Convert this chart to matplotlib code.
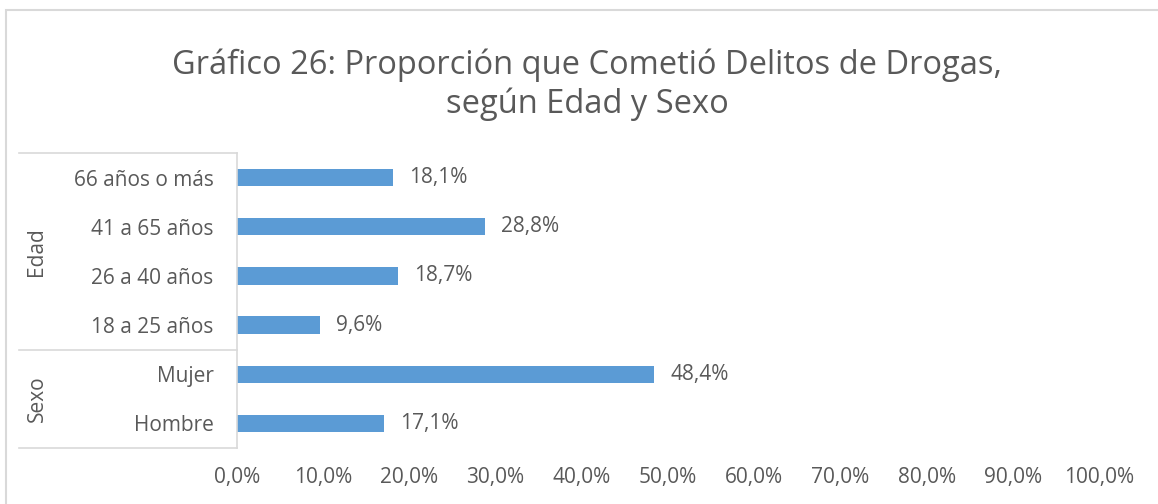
import matplotlib.pyplot as plt
from matplotlib.patches import Rectangle
from matplotlib.lines import Line2D

plt.rcParams['font.family'] = ['Open Sans', 'DejaVu Sans']

# Data
categories = ['Hombre', 'Mujer', '18 a 25 años', '26 a 40 años', '41 a 65 años', '66 años o más']
values = [17.1, 48.4, 9.6, 18.7, 28.8, 18.1]
groups = ['Sexo', 'Edad']
group_sizes = [2, 4]
xticks = [0, 10, 20, 30, 40, 50, 60, 70, 80, 90, 100]
title = 'Gráfico 26: Proporción que Cometió Delitos de Drogas,\nsegún Edad y Sexo'

text_color = '#595959'
line_color = '#d9d9d9'
bar_color = '#5b9bd5'

W, H = 1158, 504
fig = plt.figure(figsize=(W / 100, H / 100), dpi=100)

# axes placement in pixels (from reference)
x0, x1 = 237, 1099
y_top, y_bot = 153, 448
ax = fig.add_axes([x0 / W, 1 - y_bot / H, (x1 - x0) / W, (y_bot - y_top) / H])

pos = list(range(len(categories)))
ax.barh(pos, values, height=0.35, color=bar_color)
ax.set_xlim(0, 100)
ax.set_ylim(-0.5, len(categories) - 0.5)

fs = 15
for p, v in zip(pos, values):
    ax.annotate(f'{v:.1f}%'.replace('.', ','), (v, p), xytext=(16, 0),
                textcoords='offset pixels', va='center', ha='left',
                fontsize=fs, color=text_color)

ax.set_xticks(xticks)
ax.set_xticklabels([f'{t:.1f}%'.replace('.', ',') for t in xticks],
                   fontsize=fs, color=text_color)
ax.tick_params(axis='x', length=0, pad=14)
ax.set_yticks(pos)
ax.set_yticklabels(categories, fontsize=fs, color=text_color)
ax.tick_params(axis='y', length=0, pad=17)

for s in ['top', 'right', 'bottom']:
    ax.spines[s].set_visible(False)
ax.spines['left'].set_color(line_color)
ax.spines['left'].set_linewidth(1.2)

# multi-level category box
trans = ax.get_yaxis_transform()
x_left = (19 - x0) / (x1 - x0)
bounds = [-0.5]
for n in group_sizes:
    bounds.append(bounds[-1] + n)
for b in bounds:
    ax.add_line(Line2D([x_left, 0], [b, b], transform=trans, color=line_color,
                       lw=1.2, clip_on=False))
for g, lo, hi in zip(groups, bounds[:-1], bounds[1:]):
    ax.text((37 - x0) / (x1 - x0), (lo + hi) / 2, g, transform=trans, rotation=90,
            ha='center', va='center', fontsize=fs, color=text_color)

fig.text(0.507, 1 - 85 / H, title, ha='center', va='center', fontsize=23.5,
         color=text_color, linespacing=1.22)

# chart border (extends past the image on right/bottom)
fig.patches.append(Rectangle((5.5 / W, -0.1), 1.2, 1 - 9.5 / H + 0.1,
                             transform=fig.transFigure, fill=False,
                             edgecolor=line_color, lw=1.5))

fig.savefig('out.png', dpi=100)
